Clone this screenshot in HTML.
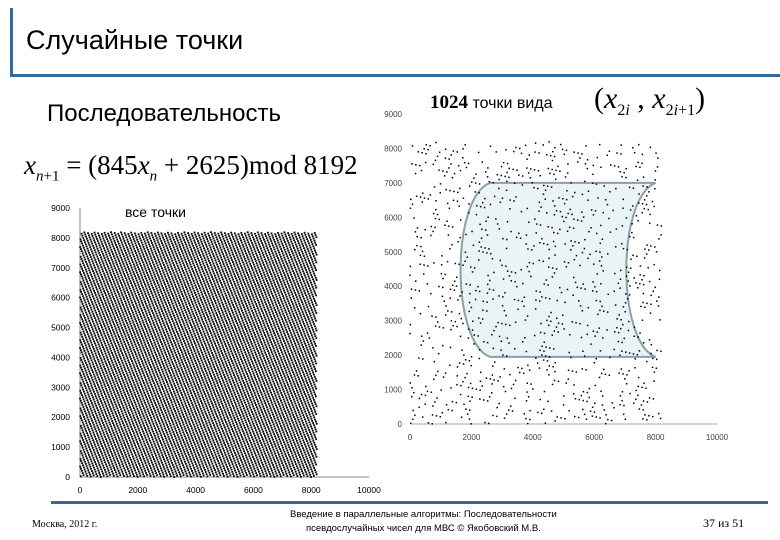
<!DOCTYPE html>
<html><head><meta charset="utf-8">
<style>
body{margin:0;width:780px;height:540px;background:#fff;overflow:hidden;position:relative;font-family:"Liberation Sans",sans-serif}
.abs{position:absolute;white-space:nowrap}
svg{position:absolute;left:0;top:0}
</style></head>
<body>
<div class="abs" style="left:10px;top:8px;width:3px;height:68px;background:#2f6aa5"></div>
<div class="abs" style="left:10px;top:74px;width:770px;height:3px;background:#2f6aa5"></div>
<div class="abs" style="left:26px;top:25px;font-size:27px;color:#000">Случайные точки</div>
<div class="abs" style="left:47px;top:100px;font-size:24px;color:#000">Последовательность</div>
<div class="abs" style="left:24px;top:150px;font-family:'Liberation Serif',serif;font-size:27px"><i>x</i><sub style="font-size:15px"><i>n</i>+1</sub> = (845<i>x</i><sub style="font-size:15px"><i>n</i></sub> + 2625)mod 8192</div>
<div class="abs" style="left:430px;top:92px;font-size:16px"><b style="font-family:'Liberation Serif',serif;font-size:19px">1024</b> точки вида</div>
<div class="abs" style="left:594px;top:82px;font-family:'Liberation Serif',serif;font-size:30px">(<i>x</i><sub style="font-size:16px">2<i>i</i></sub> , <i>x</i><sub style="font-size:16px">2<i>i</i>+1</sub>)</div>
<svg id="chart" width="780" height="540"></svg>
<div class="abs" style="left:51px;top:501px;width:717px;height:3px;background:#2f6aa5"></div>
<div class="abs" style="left:32px;top:519px;font-family:'Liberation Serif',serif;font-size:10px">Москва, 2012 г.</div>
<div class="abs" style="left:290px;top:508px;font-size:9.5px;text-align:center;line-height:14px">Введение в параллельные алгоритмы: Последовательности<br>псевдослучайных чисел для МВС © Якобовский М.В.</div>
<div class="abs" style="left:703px;top:516px;font-family:'Liberation Serif',serif;font-size:12px">37 из 51</div>
<script>
const lcgMultiplier = [845];
const lcgIncrement = [2625];
const lcgModulus = [8192];
const lcgSeed = [0];
const seq = [];
(function(){let x=lcgSeed[0];for(let i=0;i<lcgModulus[0]+1;i++){seq.push(x);x=(lcgMultiplier[0]*x+lcgIncrement[0])%lcgModulus[0];}})();
const allX = seq.slice(0,lcgModulus[0]);
const allY = seq.slice(1,lcgModulus[0]+1);
const pairX = [], pairY = [];
for(let i=0;i<1024;i++){pairX.push(seq[2*i]);pairY.push(seq[2*i+1]);}
const leftXTicks = [0,2000,4000,6000,8000,10000];
const leftYTicks = [0,1000,2000,3000,4000,5000,6000,7000,8000,9000];
const rightXTicks = [0,2000,4000,6000,8000,10000];
const rightYTicks = [0,1000,2000,3000,4000,5000,6000,7000,8000,9000];
const regionX = [2600,8000];
const regionY = [1950,7000];

const NS="http://www.w3.org/2000/svg";
const svg=document.getElementById('chart');
function el(t,a,p){const e=document.createElementNS(NS,t);for(const k in a)e.setAttribute(k,a[k]);(p||svg).appendChild(e);return e;}
const L={x0:80,x1:369,y0:477,y1:208,xm:10000,ym:9000};
const R={x0:410,x1:717,y0:424,y1:114,xm:10000,ym:9000};
const sx=(c,v)=>c.x0+(c.x1-c.x0)*v/c.xm, sy=(c,v)=>c.y0-(c.y0-c.y1)*v/c.ym;

let g=el('g',{});
let a=el('line',{x1:L.x0,y1:L.y1,x2:L.x0,y2:L.y0,stroke:'#888','stroke-width':1},g);

a=el('line',{x1:L.x0,y1:L.y0,x2:L.x1,y2:L.y0,stroke:'#888','stroke-width':1},g);

leftYTicks.forEach(v=>{const t=el('text',{x:L.x0-10,y:sy(L,v)+3,'font-size':8.5,'text-anchor':'end','font-family':'Liberation Sans'},g);t.textContent=v;
});
leftXTicks.forEach(v=>{const t=el('text',{x:sx(L,v),y:L.y0+16,'font-size':8.5,'text-anchor':'middle','font-family':'Liberation Sans'},g);t.textContent=v;
});
let lt=el('text',{x:125,y:217,'font-size':14,'font-family':'Liberation Sans'},g);lt.textContent='все точки';

let pts=el('g',{fill:'#000'},g);
for(let i=0;i<allX.length;i++){const r=el('rect',{x:(sx(L,allX[i])-0.9).toFixed(1),y:(sy(L,allY[i])-0.9).toFixed(1),width:1.8,height:1.8},pts);
}

g=el('g',{});
a=el('line',{x1:R.x0,y1:R.y0,x2:R.x1,y2:R.y0,stroke:'#aaa','stroke-width':1},g);

rightYTicks.forEach(v=>{const t=el('text',{x:R.x0-8,y:sy(R,v)+3,'font-size':8,'text-anchor':'end','font-family':'Liberation Sans',fill:'#444'},g);t.textContent=v;
});
rightXTicks.forEach(v=>{const t=el('text',{x:sx(R,v),y:R.y0+16,'font-size':8,'text-anchor':'middle','font-family':'Liberation Sans',fill:'#444'},g);t.textContent=v;
});
const rx0=sx(R,regionX[0]),rx1=sx(R,regionX[1]),ry0=sy(R,regionY[1]),ry1=sy(R,regionY[0]),bulge=30;
const d=`M${rx0},${ry0} L${rx1},${ry0} C${rx1-bulge*1.3},${ry0+15} ${rx1-bulge*1.3},${ry1-15} ${rx1},${ry1} L${rx0},${ry1} C${rx0-bulge*1.3},${ry1-15} ${rx0-bulge*1.3},${ry0+15} ${rx0},${ry0} Z`;
let reg=el('path',{d:d,fill:'#eaf3f6',stroke:'#8aa0a6','stroke-width':2},g);

pts=el('g',{fill:'#000'},g);
for(let i=0;i<pairX.length;i++){const r=el('rect',{x:(sx(R,pairX[i])-0.75).toFixed(1),y:(sy(R,pairY[i])-0.75).toFixed(1),width:1.5,height:1.5},pts);
}
</script>
</body></html>
